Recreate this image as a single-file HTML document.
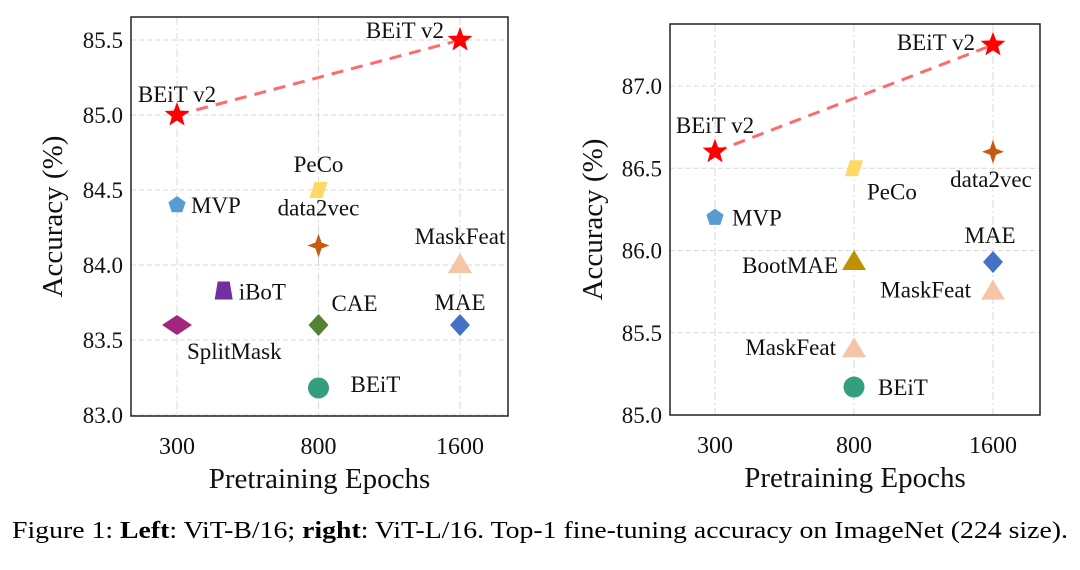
<!DOCTYPE html>
<html><head><meta charset="utf-8"><style>
html,body{margin:0;padding:0;background:#fff;}
svg{display:block;font-family:"Liberation Serif",serif;}
</style></head><body>
<svg id="fig" width="1080" height="570" viewBox="0 0 1080 570">
<text x="12" y="538" font-size="24" textLength="1056" lengthAdjust="spacingAndGlyphs">Figure 1: <tspan font-weight="bold">Left</tspan>: ViT-B/16; <tspan font-weight="bold">right</tspan>: ViT-L/16. Top-1 fine-tuning accuracy on ImageNet (224 size).</text>
</svg>
<script>
const xCategories = ["300","800","1600"];
const leftTicks = [83.0,83.5,84.0,84.5,85.0,85.5];
const rightTicks = [85.0,85.5,86.0,86.5,87.0];
const leftNames = ["BEiT v2","BEiT v2","MVP","SplitMask","iBoT","PeCo","data2vec","CAE","BEiT","MaskFeat","MAE"];
const leftX = [0,2,0,0,0.33,1,1,1,1,2,2];
const leftY = [85.0,85.5,84.4,83.6,83.83,84.5,84.13,83.6,83.18,84.0,83.6];
const rightNames = ["BEiT v2","BEiT v2","MVP","PeCo","BootMAE","MaskFeat","BEiT","data2vec","MAE","MaskFeat"];
const rightX = [0,2,0,1,1,1,1,2,2,2];
const rightY = [86.6,87.25,86.2,86.5,85.93,85.4,85.17,86.6,85.93,85.75];

const NS="http://www.w3.org/2000/svg";
const svg=document.getElementById('fig');
function el(t,a,p){const e=document.createElementNS(NS,t);for(const k in a)e.setAttribute(k,a[k]);(p||svg).appendChild(e);return e;}

const styles={
 "BEiT v2":{shape:"star",c:"#ff0000"},"MVP":{shape:"pent",c:"#5b9bd5"},"SplitMask":{shape:"diamw",c:"#a0267f"},
 "iBoT":{shape:"trap",c:"#7030a0"},"PeCo":{shape:"para",c:"#ffd966"},"data2vec":{shape:"star4",c:"#c55a11"},
 "CAE":{shape:"diam",c:"#548235"},"BEiT":{shape:"circ",c:"#339f7e"},"MaskFeat":{shape:"tri",c:"#f4c6a5"},
 "MAE":{shape:"diam",c:"#4472c4"},"BootMAE":{shape:"tri",c:"#bf9000"}};

function marker(g,shape,x,y,c){
 let e;
 if(shape==="star"){let p=[];for(let i=0;i<10;i++){const r=i%2?5.5:13,a=-Math.PI/2+i*Math.PI/5;p.push((x+r*Math.cos(a)).toFixed(1)+","+(y+r*Math.sin(a)).toFixed(1));}e=el('polygon',{points:p.join(' '),fill:c},g);}
 else if(shape==="pent"){let p=[];for(let i=0;i<5;i++){const a=-Math.PI/2+i*2*Math.PI/5;p.push((x+9*Math.cos(a)).toFixed(1)+","+(y+9*Math.sin(a)).toFixed(1));}e=el('polygon',{points:p.join(' '),fill:c},g);}
 else if(shape==="diamw")e=el('polygon',{points:`${x-15},${y} ${x},${y-10} ${x+15},${y} ${x},${y+10}`,fill:c},g);
 else if(shape==="diam")e=el('polygon',{points:`${x-10},${y} ${x},${y-11} ${x+10},${y} ${x},${y+11}`,fill:c},g);
 else if(shape==="trap")e=el('polygon',{points:`${x-6},${y-9} ${x+6},${y-9} ${x+9},${y+9} ${x-9},${y+9}`,fill:c},g);
 else if(shape==="para")e=el('polygon',{points:`${x-4},${y-8} ${x+9},${y-8} ${x+4},${y+8} ${x-9},${y+8}`,fill:c},g);
 else if(shape==="star4")e=el('polygon',{points:`${x},${y-12} ${x+3},${y-3} ${x+11},${y} ${x+3},${y+3} ${x},${y+12} ${x-3},${y+3} ${x-11},${y} ${x-3},${y-3}`,fill:c},g);
 else if(shape==="circ")e=el('circle',{cx:x,cy:y,r:10.5,fill:c},g);
 else if(shape==="tri")e=el('polygon',{points:`${x},${y-12} ${x+12},${y+8} ${x-12},${y+8}`,fill:c},g);
 return e;
}

function chart(cfg){
 const g=el('g',{});
 
 
 const xs=i=>cfg.x0+i*cfg.dx;
 const ys=v=>cfg.yb-(v-cfg.vmin)*cfg.py;
 cfg.ticks.forEach(t=>{
  const y=ys(t);
  const l=el('line',{x1:cfg.L,x2:cfg.R,y1:y,y2:y,stroke:"#d9d9d9","stroke-dasharray":"5,3","stroke-width":1},g);
  
  const tx=el('text',{x:cfg.L-8,y:y+8,"font-size":23,"text-anchor":"end",fill:"#111"},g);tx.textContent=t.toFixed(1);
  
 });
 xCategories.forEach((c,i)=>{
  const x=xs(i);
  const l=el('line',{x1:x,x2:x,y1:cfg.T,y2:cfg.B,stroke:"#d9d9d9","stroke-dasharray":"8,3,2,3","stroke-width":1},g);
  
  const tx=el('text',{x:x,y:cfg.B+38,"font-size":24,"text-anchor":"middle",fill:"#111"},g);tx.textContent=c;
  
 });
 const fr=el('rect',{x:cfg.L,y:cfg.T,width:cfg.R-cfg.L,height:cfg.B-cfg.T,fill:"none",stroke:"#222","stroke-width":1.5},g);
 
 const xt=el('text',{x:(cfg.L+cfg.R)/2,y:cfg.B+72,"font-size":29,"text-anchor":"middle",fill:"#111"},g);xt.textContent="Pretraining Epochs";
 
 const yt=el('text',{x:0,y:0,"font-size":29,"text-anchor":"middle",fill:"#111",transform:`translate(${cfg.yTitleX},${(cfg.T+cfg.B)/2}) rotate(-90)`},g);yt.textContent="Accuracy (%)";
 
 const ln=el('line',{x1:xs(cfg.X[0]),y1:ys(cfg.Y[0]),x2:xs(cfg.X[1]),y2:ys(cfg.Y[1]),stroke:"#ff6b6b","stroke-width":3,"stroke-dasharray":"12,8"},g);
 
 cfg.N.forEach((n,i)=>{
  const x=xs(cfg.X[i]),y=ys(cfg.Y[i]);const s=styles[n];
  const m=marker(g,s.shape,x,y,s.c);
  
  
  const o=cfg.lab[i];
  const t=el('text',{x:x+o[0],y:y+o[1],"font-size":23,"text-anchor":o[2],fill:"#111"},g);t.textContent=n;
  
 });
}

chart({name:"left-chart",L:131,R:508,T:17,B:416,x0:177,dx:141.5,yb:415,vmin:83.0,py:150,ticks:leftTicks,yTitleX:62,
 N:leftNames,X:leftX,Y:leftY,
 lab:[[0,-13,"middle"],[-16,-2,"end"],[14,8,"start"],[10,34,"start"],[15,9,"start"],[0,-18,"middle"],[0,-30,"middle"],[13,-14,"start"],[32,4,"start"],[0,-21,"middle"],[0,-15,"middle"]]});
chart({name:"right-chart",L:670,R:1040,T:24,B:415,x0:715,dx:139,yb:415,vmin:85.0,py:164.5,ticks:rightTicks,yTitleX:602,
 N:rightNames,X:rightX,Y:rightY,
 lab:[[0,-19,"middle"],[-18,5,"end"],[17,8,"start"],[13,31,"start"],[-16,11,"end"],[-18,6,"end"],[24,8,"start"],[-2,35,"middle"],[-3,-19,"middle"],[-22,6,"end"]]});
</script>
</body></html>
